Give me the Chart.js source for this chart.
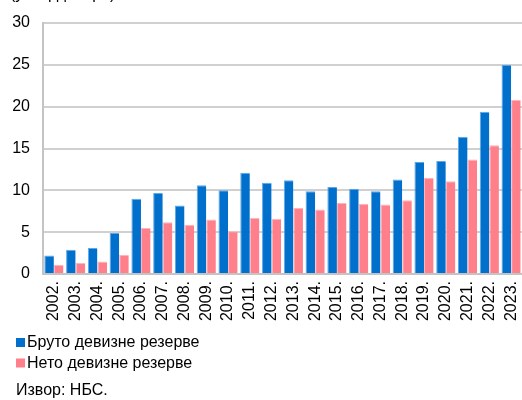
<!DOCTYPE html>
<html>
<head>
<meta charset="utf-8">
<script src="https://cdn.jsdelivr.net/npm/chart.js@4/dist/chart.umd.min.js"></script>
<style>
html,body{margin:0;padding:0;background:#fff;}
#wrap{width:522px;height:400px;position:relative;}
</style>
</head>
<body>
<div id="wrap"><canvas id="c" width="522" height="400"></canvas></div>
<script>
const years = ['2002.','2003.','2004.','2005.','2006.','2007.','2008.','2009.','2010.','2011.','2012.','2013.','2014.','2015.','2016.','2017.','2018.','2019.','2020.','2021.','2022.','2023.'];
const grossReserves = [2.2, 2.9, 3.1, 4.9, 9.0, 9.7, 8.2, 10.6, 10.0, 12.1, 10.9, 11.2, 9.9, 10.4, 10.2, 9.9, 11.3, 13.4, 13.5, 16.4, 19.4, 25.0];
const netReserves = [1.1, 1.3, 1.5, 2.3, 5.5, 6.2, 5.9, 6.5, 5.1, 6.7, 6.6, 7.9, 7.7, 8.5, 8.4, 8.3, 8.8, 11.5, 11.1, 13.7, 15.4, 20.8];
const yTicks = [0, 5, 10, 15, 20, 25, 30];
const seriesNames = ['Бруто девизне резерве', 'Нето девизне резерве'];
const unitText = '(у млрд. евра)';
const sourceText = 'Извор: НБС.';

const FONT = 'Arial, "Liberation Sans", sans-serif';
const BLUE = '#0070CC';
const PINK = '#FF808B';

const extras = {
  id: 'extras',
  afterDraw(chart) {
    const ctx = chart.ctx;
    ctx.save();
    ctx.font = '16px ' + FONT;
    ctx.fillStyle = '#000';
    ctx.textBaseline = 'alphabetic';
    ctx.textAlign = 'left';
    ctx.fillText(unitText, 10, -1);
    const rows = [342.5, 363];
    chart.data.datasets.forEach((ds, i) => {
      ctx.fillStyle = ds.backgroundColor;
      ctx.fillRect(16, rows[i] - 4.5, 9, 9);
      ctx.fillStyle = '#000';
      ctx.textBaseline = 'middle';
      ctx.fillText(ds.label, 27, rows[i] + 0.5);
    });
    ctx.textBaseline = 'middle';
    ctx.fillText(sourceText, 16, 391);
    ctx.restore();
  }
};

new Chart(document.getElementById('c'), {
  type: 'bar',
  data: {
    labels: years,
    datasets: [
      { label: seriesNames[0], data: grossReserves, backgroundColor: BLUE, borderColor: '#5EA8E6', borderWidth: {top:1, left:1, right:0, bottom:0} },
      { label: seriesNames[1], data: netReserves, backgroundColor: PINK, borderColor: '#FFB3BA', borderWidth: {top:1, left:1, right:0, bottom:0} }
    ]
  },
  options: {
    responsive: false,
    animation: false,
    devicePixelRatio: 1,
    layout: { padding: { top: 23, right: 0, bottom: 0, left: 0 } },
    plugins: { legend: { display: false }, tooltip: { enabled: false }, title: { display: false } },
    scales: {
      x: {
        grid: { display: false, drawTicks: false },
        border: { display: true, color: '#C4C4C4', width: 2 },
        ticks: { color: '#000', font: { size: 16, family: FONT }, minRotation: 90, maxRotation: 90, padding: 7, autoSkip: false },
        afterFit(s) { s.height = 126; s.paddingLeft = 0; s.paddingRight = 0; }
      },
      y: {
        min: 0, max: 30,
        afterBuildTicks(s) { s.ticks = yTicks.map(v => ({ value: v })); },
        grid: { color: '#D0D0D0', lineWidth: 2, drawTicks: false },
        border: { display: true, color: '#C4C4C4', width: 2 },
        ticks: { color: '#000', font: { size: 16, family: FONT }, padding: 13 },
        afterFit(s) { s.width = 43; s.paddingTop = 0; s.paddingBottom = 0; }
      }
    },
    datasets: { bar: { categoryPercentage: 0.88, barPercentage: 1.0 } }
  },
  plugins: [extras]
});
</script>
</body>
</html>
